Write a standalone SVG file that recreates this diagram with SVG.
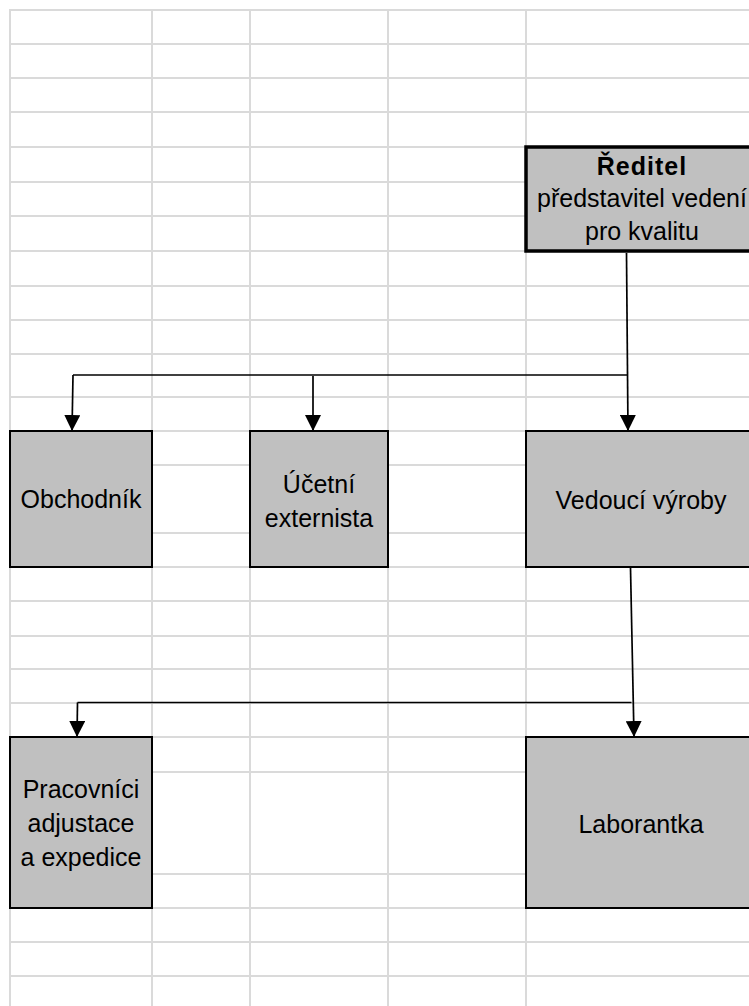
<svg xmlns="http://www.w3.org/2000/svg" width="749" height="1006" viewBox="0 0 749 1006">
<style>
.grid line{stroke:#dadada;stroke-width:2}
.box{fill:#c0c0c0;stroke:#000;stroke-width:2}
.t{font-family:"Liberation Sans",Arial,sans-serif;font-size:25px;fill:#000;text-anchor:middle}
.b{font-weight:bold;letter-spacing:1px}
.conn line,.conn polyline{stroke:#000;stroke-width:1.7;fill:none}
</style>
<defs>
<marker id="arr" markerUnits="userSpaceOnUse" markerWidth="16" markerHeight="16" viewBox="0 0 16 16" refX="16" refY="8" orient="auto">
<path d="M0,0 L16,8 L0,16 Z" fill="#000"/>
</marker>
</defs>
<rect width="749" height="1006" fill="#fff"/>
<g class="grid">
<line x1="10" y1="10" x2="10" y2="1006"/>
<line x1="152" y1="10" x2="152" y2="1006"/>
<line x1="250" y1="10" x2="250" y2="1006"/>
<line x1="388" y1="10" x2="388" y2="1006"/>
<line x1="526" y1="10" x2="526" y2="1006"/>
<line x1="9" y1="10" x2="749" y2="10"/>
<line x1="10" y1="44" x2="749" y2="44"/>
<line x1="10" y1="78" x2="749" y2="78"/>
<line x1="10" y1="112" x2="749" y2="112"/>
<line x1="10" y1="147" x2="749" y2="147"/>
<line x1="10" y1="182" x2="749" y2="182"/>
<line x1="10" y1="216" x2="749" y2="216"/>
<line x1="10" y1="251" x2="749" y2="251"/>
<line x1="10" y1="286" x2="749" y2="286"/>
<line x1="10" y1="320" x2="749" y2="320"/>
<line x1="10" y1="354" x2="749" y2="354"/>
<line x1="10" y1="397" x2="749" y2="397"/>
<line x1="10" y1="431" x2="749" y2="431"/>
<line x1="10" y1="465" x2="749" y2="465"/>
<line x1="10" y1="533" x2="749" y2="533"/>
<line x1="10" y1="567" x2="749" y2="567"/>
<line x1="10" y1="601" x2="749" y2="601"/>
<line x1="10" y1="636" x2="749" y2="636"/>
<line x1="10" y1="669" x2="749" y2="669"/>
<line x1="10" y1="703" x2="749" y2="703"/>
<line x1="10" y1="737" x2="749" y2="737"/>
<line x1="10" y1="772" x2="749" y2="772"/>
<line x1="10" y1="874" x2="749" y2="874"/>
<line x1="10" y1="908" x2="749" y2="908"/>
<line x1="10" y1="942" x2="749" y2="942"/>
<line x1="10" y1="976" x2="749" y2="976"/>
</g>
<g class="conn">
<line x1="626.5" y1="253" x2="628" y2="431" marker-end="url(#arr)"/>
<line x1="73" y1="375" x2="627" y2="375"/>
<line x1="73" y1="375" x2="72" y2="431" marker-end="url(#arr)"/>
<line x1="313" y1="376" x2="313" y2="431" marker-end="url(#arr)"/>
<line x1="630.5" y1="568" x2="634" y2="737" marker-end="url(#arr)"/>
<line x1="77.5" y1="702.5" x2="631.5" y2="702.5"/>
<line x1="77.5" y1="702.5" x2="77" y2="737" marker-end="url(#arr)"/>
</g>
<g id="reditel">
<rect class="box" x="526" y="147" width="240" height="104" style="stroke-width:3.5"/>
<text class="t b" x="642" y="175">Ředitel</text>
<text class="t" x="642" y="207">představitel vedení</text>
<text class="t" x="642" y="240">pro kvalitu</text>
</g>
<g id="obchodnik">
<rect class="box" x="10" y="431" width="142" height="136"/>
<text class="t" x="81" y="508">Obchodník</text>
</g>
<g id="ucetni">
<rect class="box" x="250" y="431" width="138" height="136"/>
<text class="t" x="319" y="493">Účetní</text>
<text class="t" x="319" y="527">externista</text>
</g>
<g id="vedouci">
<rect class="box" x="526" y="431" width="240" height="136"/>
<text class="t" x="641" y="509">Vedoucí výroby</text>
</g>
<g id="pracovnici">
<rect class="box" x="10" y="737" width="142" height="171"/>
<text class="t" x="81" y="798">Pracovníci</text>
<text class="t" x="81" y="832">adjustace</text>
<text class="t" x="81" y="866">a expedice</text>
</g>
<g id="laborantka">
<rect class="box" x="526" y="737" width="240" height="171"/>
<text class="t" x="641" y="833">Laborantka</text>
</g>
</svg>
